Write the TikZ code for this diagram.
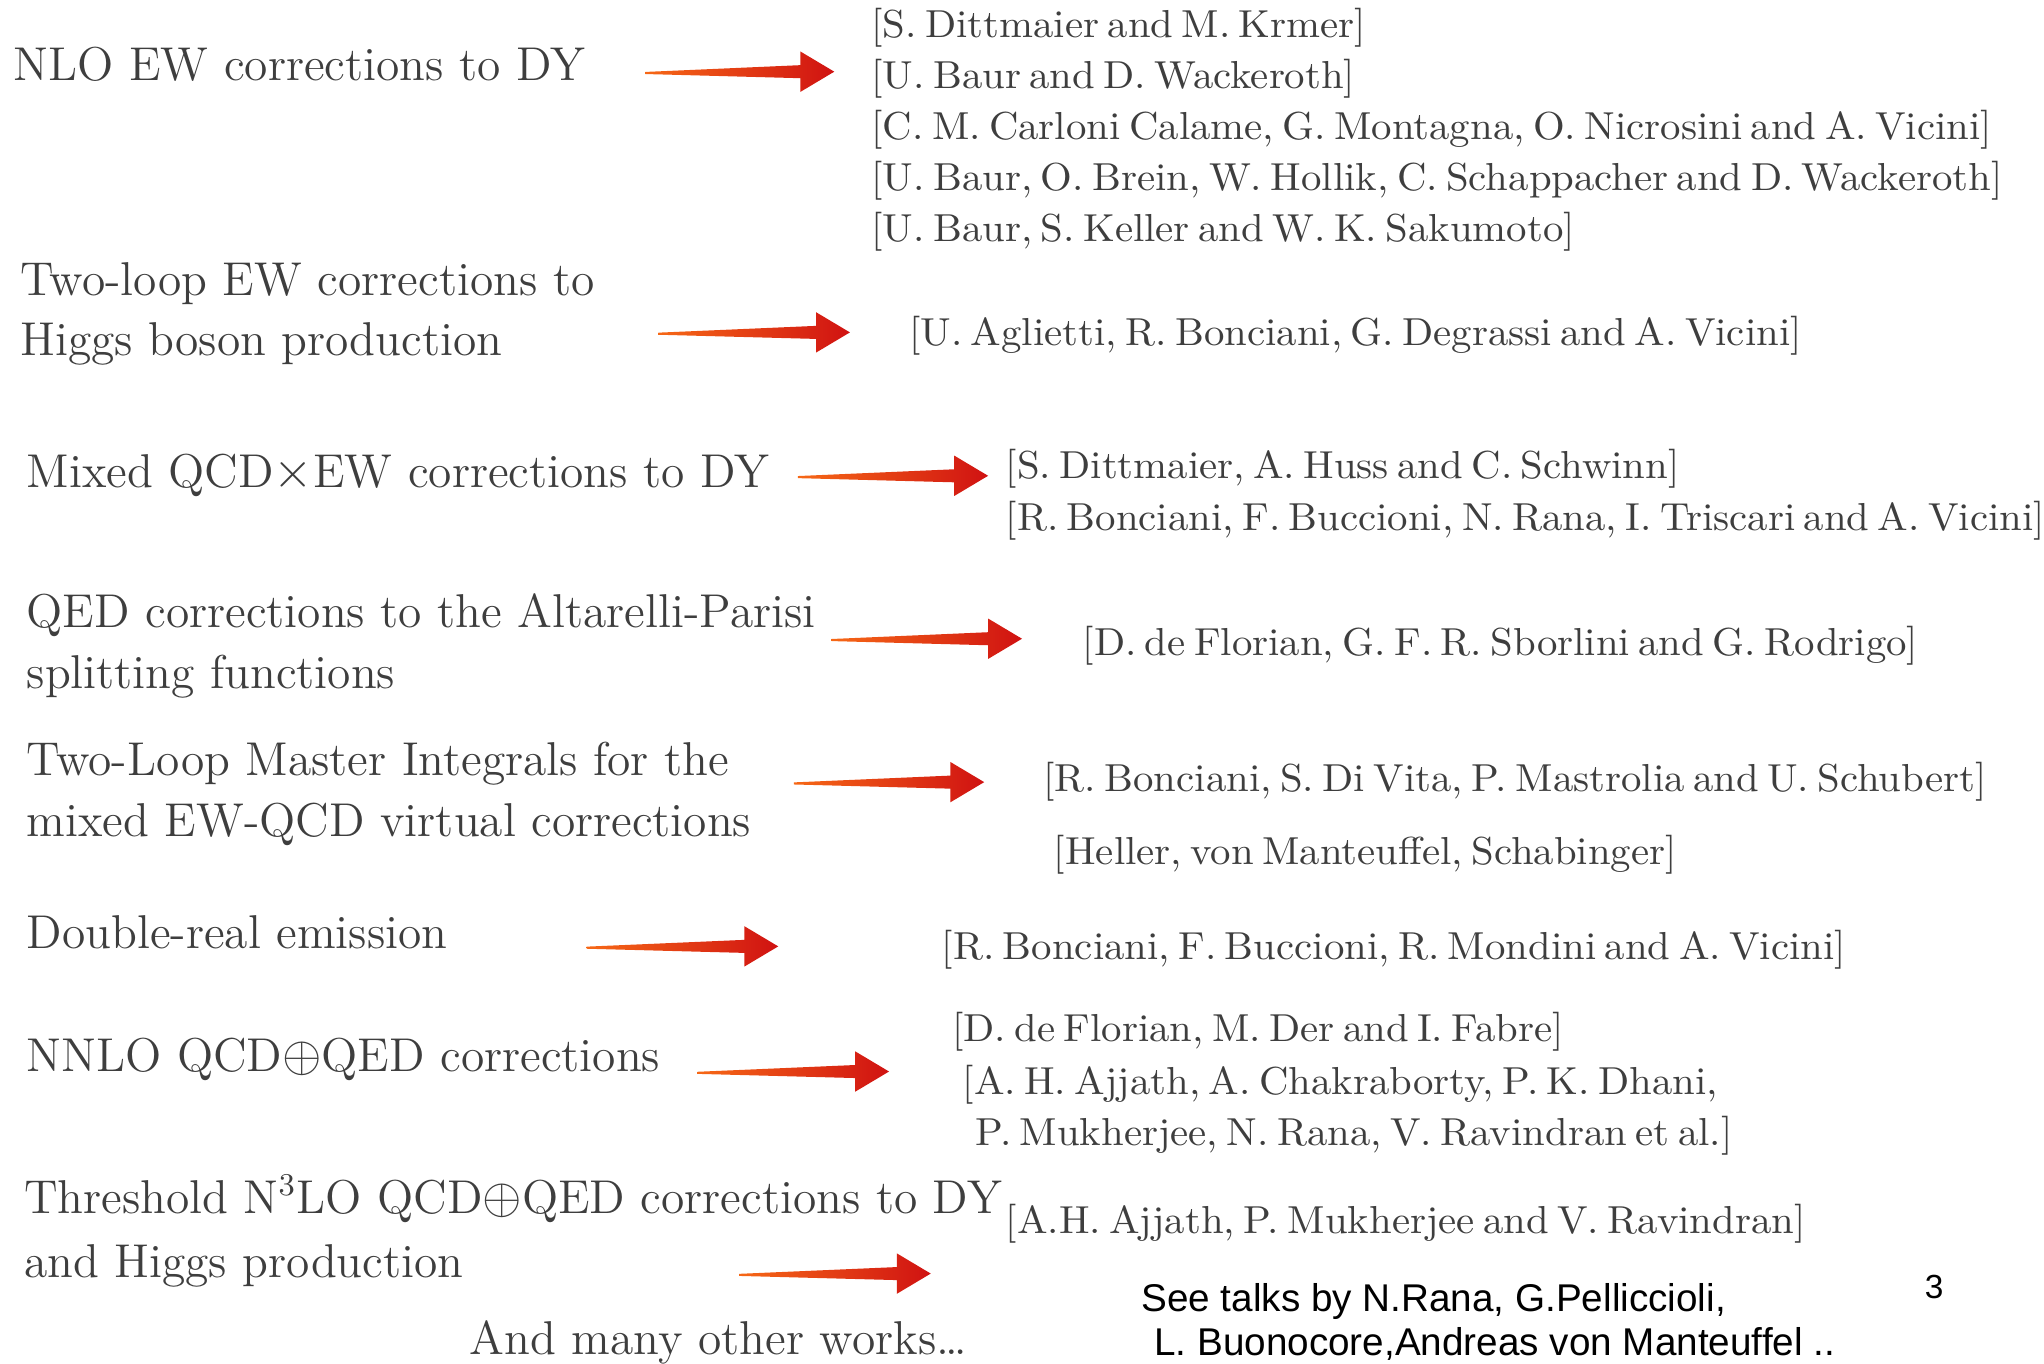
\documentclass[tikz,border=0pt]{standalone}
\usepackage{amsmath}
\usepackage{fontspec}
\setmainfont{lmroman10-regular.otf}[FakeStretch=1.045, WordSpace=0.62]
\newfontfamily\topicfont{lmroman12-regular.otf}
\newfontfamily\notefont{Liberation Sans}
\usetikzlibrary{calc}

\definecolor{txtgray}{RGB}{62,62,62}
\definecolor{arrowtail}{RGB}{246,104,22}
\definecolor{arrowhead}{RGB}{208,18,18}

% tapered red arrow from #1 to #2
\newcommand{\redarrow}[2]{%
  \shade[redarrow] ($(#1)+(0,-0.8)$) -- ($(#2)+(-26,-5)$) -- ($(#2)+(-26,-15.5)$)
    -- (#2) -- ($(#2)+(-26,15.5)$) -- ($(#2)+(-26,5)$) -- ($(#1)+(0,0.8)$) -- cycle;}

\begin{document}
\begin{tikzpicture}[
            x = 0.013036cm, y = -0.013036cm, % one unit = one pixel of the slide
            topic/.style = {anchor=base west, inner sep=0pt, text=txtgray,
                            font=\topicfont\fontsize{13.5}{16}\selectfont},
            refs/.style = {anchor=base west, inner sep=0pt, text=txtgray,
                           font=\fontsize{11.1}{13}\selectfont},
            note/.style = {anchor=base west, inner sep=0pt,
                           font=\notefont\fontsize{11}{12}\selectfont},
            redarrow/.style = {left color=arrowtail, right color=arrowhead, draw=none}
        ]
	\useasboundingbox (0,0) rectangle (1568,1046);

	% topics
	\node[topic] (l1) at (10,62) {NLO EW corrections to DY};
	\node[topic] (l2a) at (15,227) {Two-loop EW corrections to};
	\node[topic] (l2b) at (15,273) {Higgs boson production};
	\node[topic] (l3) at (20,374) {Mixed QCD$\times$EW corrections to DY};
	\node[topic] (l4a) at (20,481) {QED corrections to the Altarelli-Parisi};
	\node[topic] (l4b) at (20,528) {splitting functions};
	\node[topic] (l5a) at (20,595) {Two-Loop Master Integrals for the};
	\node[topic] (l5b) at (20,642) {mixed EW-QCD virtual corrections};
	\node[topic] (l6) at (20,728) {Double-real emission};
	\node[topic] (l7) at (20,822) {NNLO QCD$\oplus$QED corrections};
	\node[topic] (l8a) at (18,931) {Threshold N$^3$LO QCD$\oplus$QED corrections to DY};
	\node[topic] (l8b) at (18,980) {and Higgs production};
	\node[topic] (l9) at (360,1039) {And many other works\ldots};

	% references
	\node[refs] (r1a) at (668,29) {[S. Dittmaier and M. Krmer]};
	\node[refs] (r1b) at (668,68) {[U. Baur and D. Wackeroth]};
	\node[refs] (r1c) at (668,107) {[C. M. Carloni Calame, G. Montagna, O. Nicrosini and A. Vicini]};
	\node[refs] (r1d) at (668,146) {[U. Baur, O. Brein, W. Hollik, C. Schappacher and D. Wackeroth]};
	\node[refs] (r1e) at (668,185) {[U. Baur, S. Keller and W. K. Sakumoto]};
	\node[refs] (r2) at (697,265) {[U. Aglietti, R. Bonciani, G. Degrassi and A. Vicini]};
	\node[refs] (r3a) at (771,367) {[S. Dittmaier, A. Huss and C. Schwinn]};
	\node[refs] (r3b) at (771,407) {[R. Bonciani, F. Buccioni, N. Rana, I. Triscari and A. Vicini]};
	\node[refs] (r4) at (830,503) {[D. de Florian, G. F. R. Sborlini and G. Rodrigo]};
	\node[refs] (r5a) at (800,607) {[R. Bonciani, S. Di Vita, P. Mastrolia and U. Schubert]};
	\node[refs] (r5b) at (808,663) {[Heller, von Manteuffel, Schabinger]};
	\node[refs] (r6) at (722,736) {[R. Bonciani, F. Buccioni, R. Mondini and A. Vicini]};
	\node[refs] (r7a) at (730,799) {[D. de Florian, M. Der and I. Fabre]};
	\node[refs] (r7b) at (738,840) {[A. H. Ajjath, A. Chakraborty, P. K. Dhani,};
	\node[refs] (r7c) at (748,879) {P. Mukherjee, N. Rana, V. Ravindran et al.]};
	\node[refs] (r8) at (771,946) {[A.H. Ajjath, P. Mukherjee and V. Ravindran]};

	% talks and page number
	\node[note] (n1) at (875,1006) {See talks by N.Rana, G.Pelliccioli,};
	\node[note] (n2) at (885,1040) {L. Buonocore,Andreas von Manteuffel ..};
	\node[note, font=\notefont\fontsize{9.5}{11}\selectfont] (pg) at (1476,996) {3};

	% arrows
	\coordinate (s1) at (495,56); \coordinate (e1) at (640,55);
	\coordinate (s2) at (505,256); \coordinate (e2) at (652,255);
	\coordinate (s3) at (612,366); \coordinate (e3) at (758,365);
	\coordinate (s4) at (638,491); \coordinate (e4) at (784,490);
	\coordinate (s5) at (609,601); \coordinate (e5) at (755,600);
	\coordinate (s6) at (450,727); \coordinate (e6) at (597,726);
	\coordinate (s7) at (535,823); \coordinate (e7) at (682,822);
	\coordinate (s8) at (567,978); \coordinate (e8) at (714,977);
	\redarrow{s1}{e1}
	\redarrow{s2}{e2}
	\redarrow{s3}{e3}
	\redarrow{s4}{e4}
	\redarrow{s5}{e5}
	\redarrow{s6}{e6}
	\redarrow{s7}{e7}
	\redarrow{s8}{e8}

\end{tikzpicture}
\end{document}
